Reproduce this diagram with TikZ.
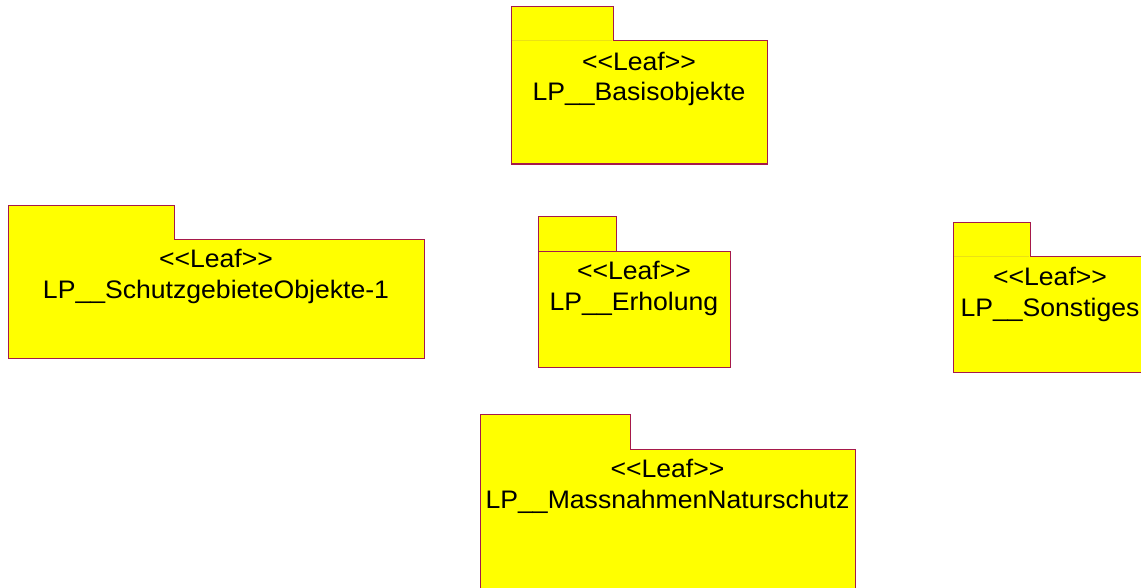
\documentclass[tikz,border=0pt]{standalone}
\usepackage{fontspec}
\setmainfont{Liberation Sans}[Ligatures=TeXOff]
\newfontfamily\pkgfont{Liberation Sans}[Ligatures=TeXOff, FakeStretch=1.05]
\definecolor{pkgfill}{RGB}{255,255,0}
\definecolor{pkgline}{RGB}{165,25,75}
\definecolor{tabline}{RGB}{235,225,20}

\begin{document}
\begin{tikzpicture}[x=0.75pt,y=-0.75pt,
        pkg/.style={fill=pkgfill, draw=pkgline, line width=0.75pt, line join=miter},
        pkgtext/.style={font=\pkgfont\fontsize{19}{23}\selectfont, align=center, anchor=base, inner sep=0pt}]

        % Page frame
        \clip (0,0) rectangle (1141,588);

        % Package Basisobjekte
        \filldraw[pkg] (511,7) -- (613,7) -- (613,41) -- (767,41) -- (767,164) -- (511,164) -- cycle;
        \draw[tabline, line width=0.75pt] (512,41) -- (612,41);
        \node[pkgtext] (basis) at (639,101) {<<Leaf>>\\LP\_\_Basisobjekte};

        % Package SchutzgebieteObjekte-1
        \filldraw[pkg] (8,205) -- (174,205) -- (174,239) -- (424,239) -- (424,358) -- (8,358) -- cycle;
        \node[pkgtext] (schutz) at (216,298) {<<Leaf>>\\LP\_\_SchutzgebieteObjekte-1};

        % Package Erholung
        \filldraw[pkg] (538,216) -- (616,216) -- (616,251) -- (730,251) -- (730,367) -- (538,367) -- cycle;
        \draw[pkgline, line width=0.75pt] (538,251) -- (616,251);
        \node[pkgtext] (erholung) at (634,310) {<<Leaf>>\\LP\_\_Erholung};

        % Package Sonstiges (cut at the right edge)
        \filldraw[pkg] (953,222) -- (1030,222) -- (1030,256) -- (1147,256) -- (1147,372) -- (953,372) -- cycle;
        \draw[tabline, line width=0.75pt] (954,256) -- (1029,256);
        \node[pkgtext] (sonstiges) at (1050,316) {<<Leaf>>\\LP\_\_Sonstiges};

        % Package MassnahmenNaturschutz (cut at the bottom edge)
        \filldraw[pkg] (480,414) -- (630,414) -- (630,449) -- (855,449) -- (855,600) -- (480,600) -- cycle;
        \node[pkgtext] (massnahmen) at (667.5,508) {<<Leaf>>\\LP\_\_MassnahmenNaturschutz};

    \end{tikzpicture}
\end{document}
